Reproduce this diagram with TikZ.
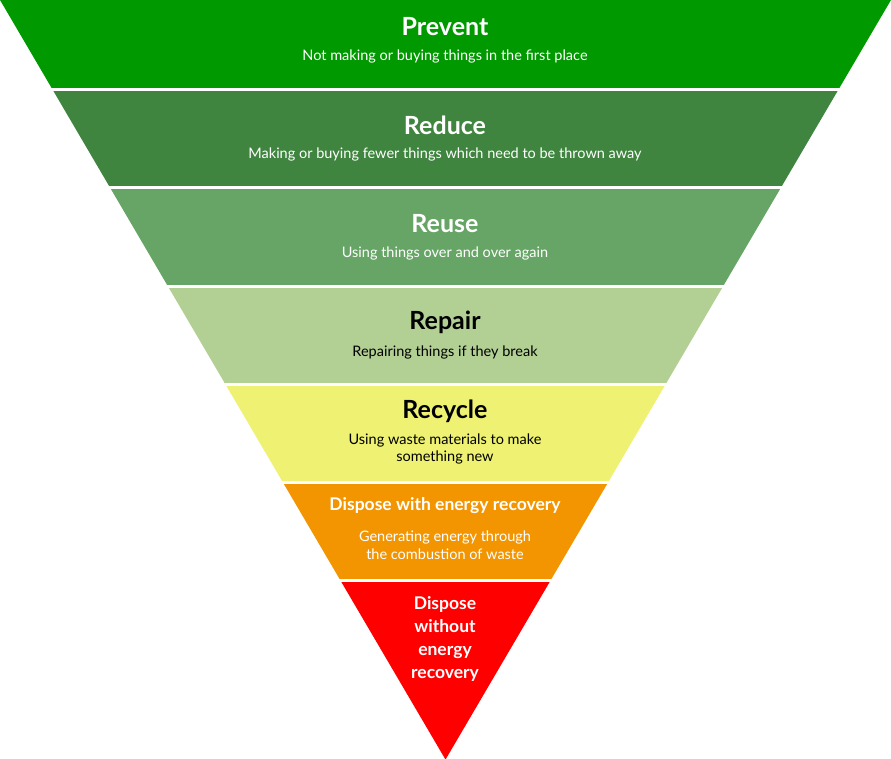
\documentclass[tikz,border=0pt]{standalone}
\usepackage{fontspec}
\setmainfont{Lato}
\definecolor{cA}{HTML}{009A00}
\definecolor{cB}{HTML}{3F853F}
\definecolor{cC}{HTML}{66A566}
\definecolor{cD}{HTML}{B2CF94}
\definecolor{cE}{HTML}{EEF171}
\definecolor{cF}{HTML}{F29500}
\definecolor{cG}{HTML}{FF0000}
\begin{document}
\begin{tikzpicture}[x=1pt,y=-1pt,
  ttl/.style={font=\bfseries\fontsize{25}{29}\selectfont,inner sep=0pt},
  sub/.style={font=\fontsize{14.5}{17.5}\selectfont,inner sep=0pt,align=center},
  ttls/.style={font=\bfseries\fontsize{17.5}{23}\selectfont,inner sep=0pt,align=center}]
\useasboundingbox (0,0) rectangle (891,759);
\def\s{0.5865}
\foreach \ya/\yb/\c in {0/90/cA,90/188/cB,188/286/cC,286/384/cD,384/482/cE,482/580/cF,580/759/cG}{
  \fill[\c] ({\ya*\s},\ya) -- ({891-\ya*\s},\ya) -- ({891-\yb*\s},\yb) -- ({\yb*\s},\yb) -- cycle;
}
\foreach \ya in {90,188,286,384,482,580}{
  \draw[white,line width=3pt] ({\ya*\s-2},\ya) -- ({891-\ya*\s+2},\ya);
}
\node[ttl,white] (t1) at (445,27) {Prevent};
\node[sub,white] (s1) at (445,56) {Not making or buying things in the first place};
\node[ttl,white] (t2) at (445,125) {Reduce};
\node[sub,white] (s2) at (445,154) {Making or buying fewer things which need to be thrown away};
\node[ttl,white] (t3) at (445,224) {Reuse};
\node[sub,white] (s3) at (445,253) {Using things over and over again};
\node[ttl,black] (t4) at (445,322) {Repair};
\node[sub,black] (s4) at (445,352) {Repairing things if they break};
\node[ttl,black] (t5) at (445,411) {Recycle};
\node[sub,black] (s5) at (445,449) {Using waste materials to make\\something new};
\node[ttls,white] (t6) at (445,506) {Dispose with energy recovery};
\node[sub,white] (s6) at (445,545) {Generating energy through\\the combustion of waste};
\node[ttls,white] (t7) at (445,639) {Dispose\\without\\energy\\recovery};
\end{tikzpicture}
\end{document}
